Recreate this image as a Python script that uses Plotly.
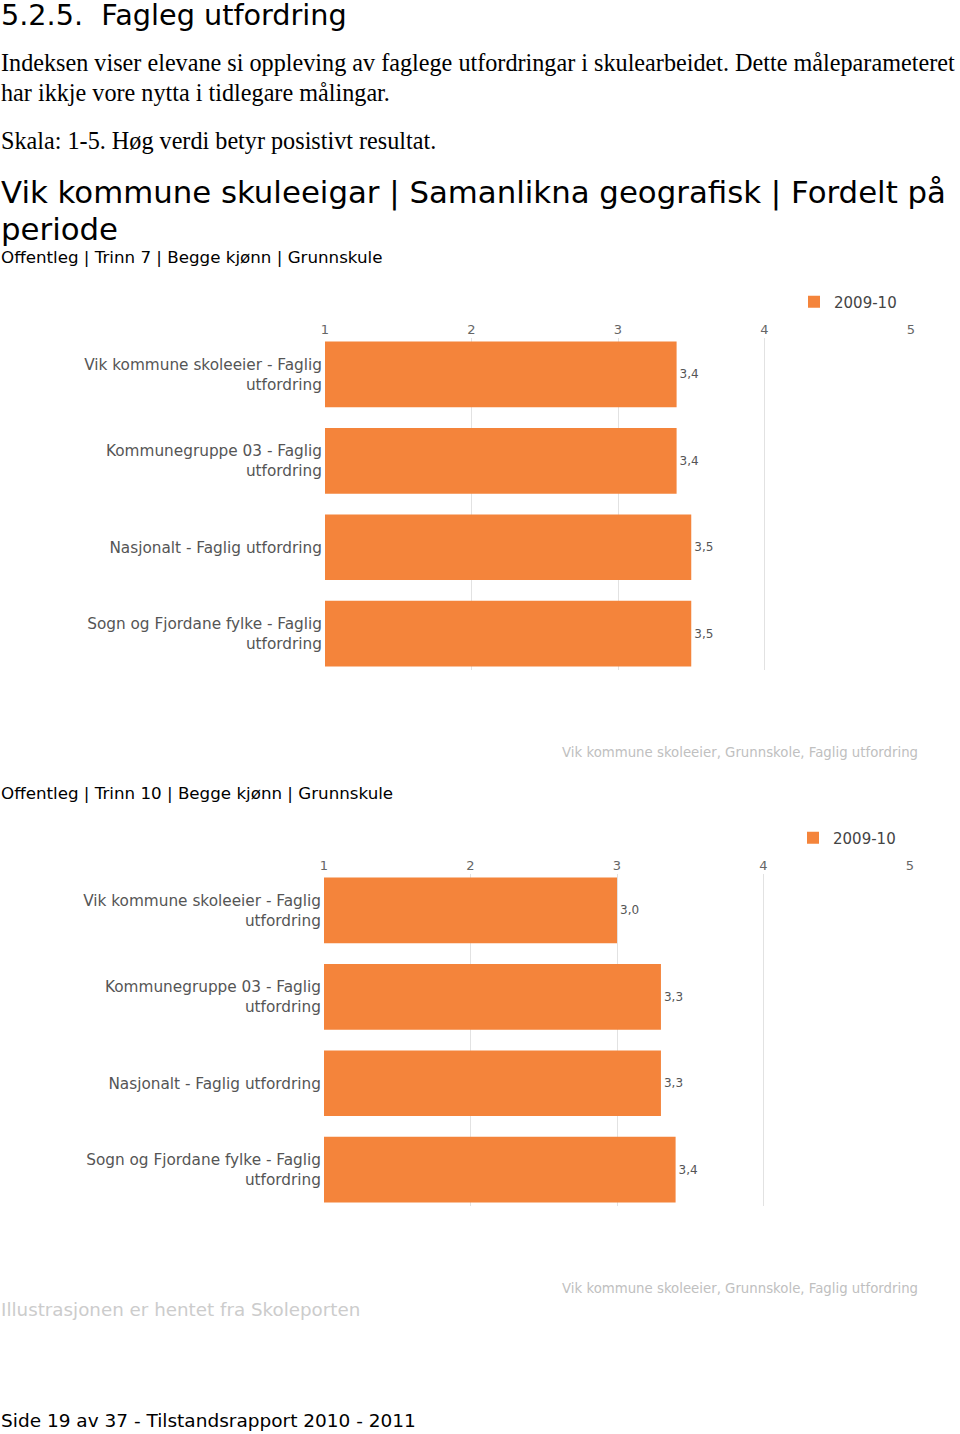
import plotly.graph_objects as go

W, H = 960, 1434

categories = [
    "Vik kommune skoleeier - Faglig<br>utfordring",
    "Kommunegruppe 03 - Faglig<br>utfordring",
    "Nasjonalt - Faglig utfordring",
    "Sogn og Fjordane fylke - Faglig<br>utfordring",
]
trinn7_values = [3.4, 3.4, 3.5, 3.5]
trinn10_values = [3.0, 3.3, 3.3, 3.4]
series_name = "2009-10"
tick_vals = [1, 2, 3, 4, 5]
tick_text = ["1", "2", "3", "4", "5"]

BAR = "#F4843B"
SANS = "DejaVu Sans"
SERIF = "Liberation Serif"


def py(px):
    return 1 - px / H


def px_x(px):
    return px / W


fig = go.Figure()

for vals, xa, ya, lg in ((trinn7_values, "x", "y", "legend"),
                         (trinn10_values, "x2", "y2", "legend2")):
    fig.add_trace(go.Bar(
        y=categories, x=vals, orientation="h", name=series_name,
        marker=dict(color=BAR, line=dict(width=0)), width=0.76,
        texttemplate="%{x:.1f}", textposition="outside", cliponaxis=False,
        textfont=dict(family=SANS, size=12, color="#555555"),
        xaxis=xa, yaxis=ya, legend=lg,
    ))

xcommon = dict(range=[1, 5], tickvals=tick_vals, ticktext=tick_text, side="top",
               showgrid=True, gridcolor="#e2e2e2", gridwidth=1, zeroline=False,
               showline=False, ticks="", fixedrange=True, automargin=False,
               tickfont=dict(family=SANS, size=13, color="#666666"))
ycommon = dict(type="category", range=[3.42, -0.42], showgrid=False, zeroline=False,
               showline=False, ticks="", ticklen=0, ticklabelstandoff=2,
               automargin=False, fixedrange=True,
               tickfont=dict(family=SANS, size=15.3, color="#555555"))

legcommon = dict(xanchor="left", yanchor="middle",
                 font=dict(family=SANS, size=15, color="#444444"),
                 bgcolor="rgba(0,0,0,0)", itemwidth=30, tracegroupgap=0)

fig.update_layout(
    width=W, height=H, margin=dict(l=0, r=0, t=0, b=0, autoexpand=False),
    paper_bgcolor="white", plot_bgcolor="white",
    separators=",.", bargap=0.24,
    xaxis=dict(domain=[px_x(325), px_x(911)], anchor="y", **xcommon),
    yaxis=dict(domain=[py(670), py(338)], anchor="x", **ycommon),
    xaxis2=dict(domain=[px_x(324), px_x(910)], anchor="y2", **xcommon),
    yaxis2=dict(domain=[py(1206), py(874)], anchor="x2", **ycommon),
    legend=dict(x=px_x(794), y=py(302), **legcommon),
    legend2=dict(x=px_x(793), y=py(838), **legcommon),
    showlegend=True,
)

texts = [
    ("5.2.5.  Fagleg utfordring", -1.5, 15, SANS, 28.7, "#000000"),
    ("Indeksen viser elevane si oppleving av faglege utfordringar i skulearbeidet. Dette måleparameteret",
     -1.5, 63, SERIF, 24.2, "#000000"),
    ("har ikkje vore nytta i tidlegare målingar.", -1.5, 92, SERIF, 24.2, "#000000"),
    ("Skala: 1-5. Høg verdi betyr posistivt resultat.", -1.5, 140, SERIF, 24.2, "#000000"),
    ("Vik kommune skuleeigar | Samanlikna geografisk | Fordelt på", -1.5, 192, SANS, 30.8, "#000000"),
    ("periode", -1.5, 229, SANS, 30.8, "#000000"),
    ("Offentleg | Trinn 7 | Begge kjønn | Grunnskule", -1.5, 257, SANS, 16.7, "#000000"),
    ("Offentleg | Trinn 10 | Begge kjønn | Grunnskule", -1.5, 793, SANS, 16.7, "#000000"),
    ("Illustrasjonen er hentet fra Skoleporten", -1.5, 1309, SANS, 18.3, "#cccccc"),
    ("Side 19 av 37 - Tilstandsrapport 2010 - 2011", -1.5, 1420, SANS, 18.5, "#000000"),
]
for t, x, y, fam, size, col in texts:
    fig.add_annotation(text=t, x=px_x(x), y=py(y), xref="paper", yref="paper",
                       xanchor="left", yanchor="middle", showarrow=False,
                       font=dict(family=fam, size=size, color=col))

for y in (753, 1288):
    fig.add_annotation(text="Vik kommune skoleeier, Grunnskole, Faglig utfordring",
                       x=px_x(920), y=py(y), xref="paper", yref="paper",
                       xanchor="right", yanchor="middle", showarrow=False,
                       font=dict(family=SANS, size=13.3, color="#c0c0c0"))

fig.write_html("out.html", config={"displayModeBar": False},
               post_script="document.body.style.margin='0';")
